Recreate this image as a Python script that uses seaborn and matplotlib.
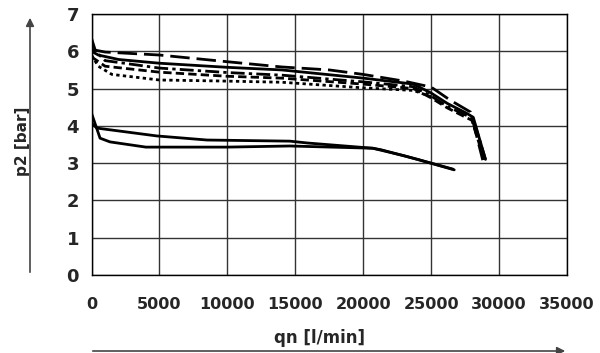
import matplotlib
matplotlib.use('Agg')
import matplotlib.pyplot as plt
import seaborn as sns

# flow qn [l/min] vs outlet pressure p2 [bar]
# upper family (5 curves, different line styles)
x_longdash = [0, 1000, 5000, 10000, 14000, 17500, 20000, 23000, 25000, 26400, 27900, 28800]
y_longdash = [6.05, 5.98, 5.9, 5.72, 5.58, 5.5, 5.38, 5.2, 5.04, 4.69, 4.37, 3.08]

x_solid_up = [0, 500, 2000, 5000, 10000, 14000, 20000, 23700, 25000, 26200, 27600, 28100, 29000]
y_solid_up = [6.0, 5.9, 5.78, 5.68, 5.57, 5.5, 5.28, 5.12, 4.88, 4.6, 4.34, 4.23, 3.1]

x_dashdot = [0, 300, 1000, 5000, 10000, 14000, 20000, 23700, 25000, 26200, 27600, 28100, 29000]
y_dashdot = [6.35, 6.0, 5.75, 5.55, 5.43, 5.36, 5.18, 5.05, 4.8, 4.52, 4.28, 4.18, 3.1]

x_dashed = [0, 1000, 5000, 10000, 14000, 20000, 23700, 25000, 26200, 27600, 28000, 28900]
y_dashed = [5.85, 5.6, 5.44, 5.33, 5.28, 5.12, 5.0, 4.75, 4.48, 4.22, 4.15, 3.1]

x_dotted = [0, 500, 1500, 5000, 10000, 14000, 20000, 23700, 25000]
y_dotted = [5.9, 5.6, 5.38, 5.23, 5.2, 5.17, 5.02, 4.95, 4.78]

# lower family (2 solid curves)
x_low_a = [0, 630, 1360, 4000, 10000, 14600, 20700, 21300, 24000, 26700]
y_low_a = [4.34, 3.67, 3.57, 3.43, 3.43, 3.46, 3.4, 3.36, 3.1, 2.82]

x_low_b = [0, 400, 4800, 8500, 14600, 15900, 20700, 23000, 26600]
y_low_b = [4.07, 3.94, 3.73, 3.62, 3.59, 3.54, 3.4, 3.2, 2.84]

x_ticks = [0, 5000, 10000, 15000, 20000, 25000, 30000, 35000]
y_ticks = [0, 1, 2, 3, 4, 5, 6, 7]

sns.set_style('white')
plt.rcParams['font.family'] = ['DejaVu Sans']

fig = plt.figure(figsize=(6, 3.53), dpi=100)
ax = fig.add_axes([0.1525, 0.221, 0.7925, 0.7393])

lw = 2.0
curves = [
    (x_longdash, y_longdash, (0, (7, 2.5))),
    (x_solid_up, y_solid_up, '-'),
    (x_dashdot, y_dashdot, (0, (5, 1.5, 1.2, 1.5))),
    (x_dashed, y_dashed, (0, (3, 1.5))),
    (x_dotted, y_dotted, (0, (1.2, 1.2))),
    (x_low_a, y_low_a, '-'),
    (x_low_b, y_low_b, '-'),
]
for xs, ys, ls in curves:
    sns.lineplot(x=xs, y=ys, ax=ax, color='black', lw=lw, linestyle=ls,
                 estimator=None, sort=False, zorder=3)

ax.set_xlim(0, 35000)
ax.set_ylim(0, 7)
ax.set_xticks(x_ticks)
ax.set_yticks(y_ticks)
ax.grid(True, color='#333333', lw=1.0)
ax.set_axisbelow(True)
for sp in ax.spines.values():
    sp.set_color('black')
    sp.set_linewidth(1.0)

ax.tick_params(axis='y', direction='out', length=7, width=1, color='black',
               labelsize=13, pad=2)
ax.tick_params(axis='x', direction='out', length=6, width=1, color='black',
               labelsize=11.5, pad=10)
for lab in ax.get_xticklabels() + ax.get_yticklabels():
    lab.set_fontweight('bold')
ax.set_xlabel('')
ax.set_ylabel('')

# axis titles with arrows, outside the plot area
fig.text(22 / 600, 1 - 141 / 353, 'p2 [bar]', rotation=90, ha='center', va='center',
         fontsize=11, fontweight='bold')
fig.text(320 / 600, 1 - 338 / 353, 'qn [l/min]', ha='center', va='center',
         fontsize=12, fontweight='bold')

ax.annotate('', xy=(30, 353 - 15), xytext=(30, 353 - 275), xycoords='figure pixels',
            textcoords='figure pixels', annotation_clip=False,
            arrowprops=dict(arrowstyle='-|>', color='#444444', lw=1.2, mutation_scale=12))
ax.annotate('', xy=(568, 2), xytext=(90, 2), xycoords='figure pixels',
            textcoords='figure pixels', annotation_clip=False,
            arrowprops=dict(arrowstyle='-|>', color='#444444', lw=1.2, mutation_scale=12))

fig.savefig('out.png', dpi=100)
